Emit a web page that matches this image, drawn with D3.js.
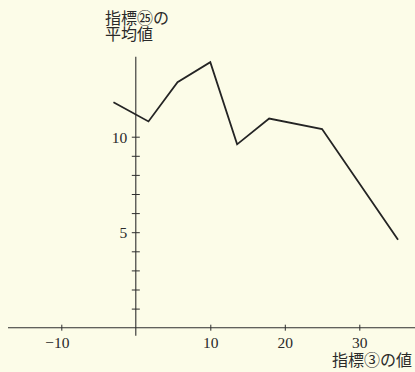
<!DOCTYPE html>
<html>
<head>
<meta charset="utf-8">
<script src="https://cdn.jsdelivr.net/npm/d3@7"></script>
<style>
  html, body { margin: 0; padding: 0; background: #fcfce8; }
  svg { display: block; }
  .num { font-family: "Liberation Serif", "DejaVu Serif", serif; font-size: 15.5px; fill: #2a2a2a; }
  .jp { font-family: "Noto Sans CJK JP", sans-serif; font-size: 16px; fill: #2a2a2a; }
</style>
</head>
<body>
<svg id="chart" width="415" height="372"></svg>
<script>
// Indicator ③ value (x) vs. mean of indicator ㉕ (y)
const xValues = [-3, 1.7, 5.6, 10, 13.6, 17.9, 25, 35.2];
const yValues = [11.8, 10.8, 12.85, 13.9, 9.6, 10.95, 10.4, 4.6];

const xTickValues = [-10, 10, 20, 30];
const yTickValues = [1, 2, 3, 4, 5, 6, 7, 8, 9, 10];
const yLabeledTicks = [5, 10];

const yAxisTitle = ["指標㉕の", "平均値"];
const xAxisTitle = "指標③の値";

const W = 415, H = 372;
const svg = d3.select("#chart");

svg.append("rect").attr("width", W).attr("height", H).attr("fill", "#fcfce8");

// x: 0 sits on the vertical axis, 10 units ≈ 74.5 px
const x = d3.scaleLinear().domain([-10, 30]).range([61.3, 359.3]);
// y: 0 sits on the horizontal axis, 1 unit ≈ 19.1 px
const y = d3.scaleLinear().domain([0, 10]).range([327.7, 136.7]);

const ink = "#2e2e2e";

// horizontal axis line
svg.append("line")
  .attr("x1", 8).attr("x2", W)
  .attr("y1", y(0)).attr("y2", y(0))
  .attr("stroke", ink).attr("stroke-width", 1.1);

// vertical axis line (runs a little below the horizontal axis)
svg.append("line")
  .attr("x1", x(0)).attr("x2", x(0))
  .attr("y1", y(14.18)).attr("y2", y(-0.42))
  .attr("stroke", ink).attr("stroke-width", 1.1);

// x axis ticks and labels
const xAxis = d3.axisBottom(x)
  .tickValues(xTickValues)
  .tickSize(3)
  .tickFormat(d => d < 0 ? "\u2212" + Math.abs(d) : String(d));

const gx = svg.append("g")
  .attr("transform", `translate(0,${y(0)})`)
  .call(xAxis);
gx.select(".domain").remove();
gx.selectAll(".tick line")
  .attr("y1", -3).attr("y2", 3)
  .attr("stroke", ink).attr("stroke-width", 1);
gx.selectAll(".tick text")
  .attr("class", "num")
  .attr("font-family", null).attr("font-size", null)
  .attr("fill", null)
  .attr("y", 20).attr("dy", 0)
  .attr("dx", d => d < 0 ? -4.5 : 0);

// y axis ticks (every unit) and labels at 5 and 10
const yAxis = d3.axisLeft(y)
  .tickValues(yTickValues)
  .tickSize(4)
  .tickFormat(d => yLabeledTicks.includes(d) ? String(d) : "");

const gy = svg.append("g")
  .attr("transform", `translate(${x(0)},0)`)
  .call(yAxis);
gy.select(".domain").remove();
gy.selectAll(".tick line")
  .attr("x1", 4).attr("x2", -4)
  .attr("stroke", ink).attr("stroke-width", 1);
gy.selectAll(".tick text")
  .attr("class", "num")
  .attr("font-family", null).attr("font-size", null)
  .attr("fill", null)
  .attr("x", -8.5).attr("dy", "0.36em");

// data line
const line = d3.line().x(d => x(d[0])).y(d => y(d[1]));
svg.append("path")
  .datum(xValues.map((v, i) => [v, yValues[i]]))
  .attr("d", line)
  .attr("fill", "none")
  .attr("stroke", "#242424")
  .attr("stroke-width", 1.8)
  .attr("stroke-linejoin", "miter");

// axis titles
const yt = svg.append("text").attr("class", "jp").attr("x", 105).attr("y", 24);
yt.selectAll("tspan").data(yAxisTitle).join("tspan")
  .attr("x", 105)
  .attr("dy", (d, i) => i === 0 ? 0 : 16)
  .text(d => d);

svg.append("text").attr("class", "jp")
  .attr("x", 412).attr("y", 366)
  .attr("text-anchor", "end")
  .text(xAxisTitle);
</script>
</body>
</html>
